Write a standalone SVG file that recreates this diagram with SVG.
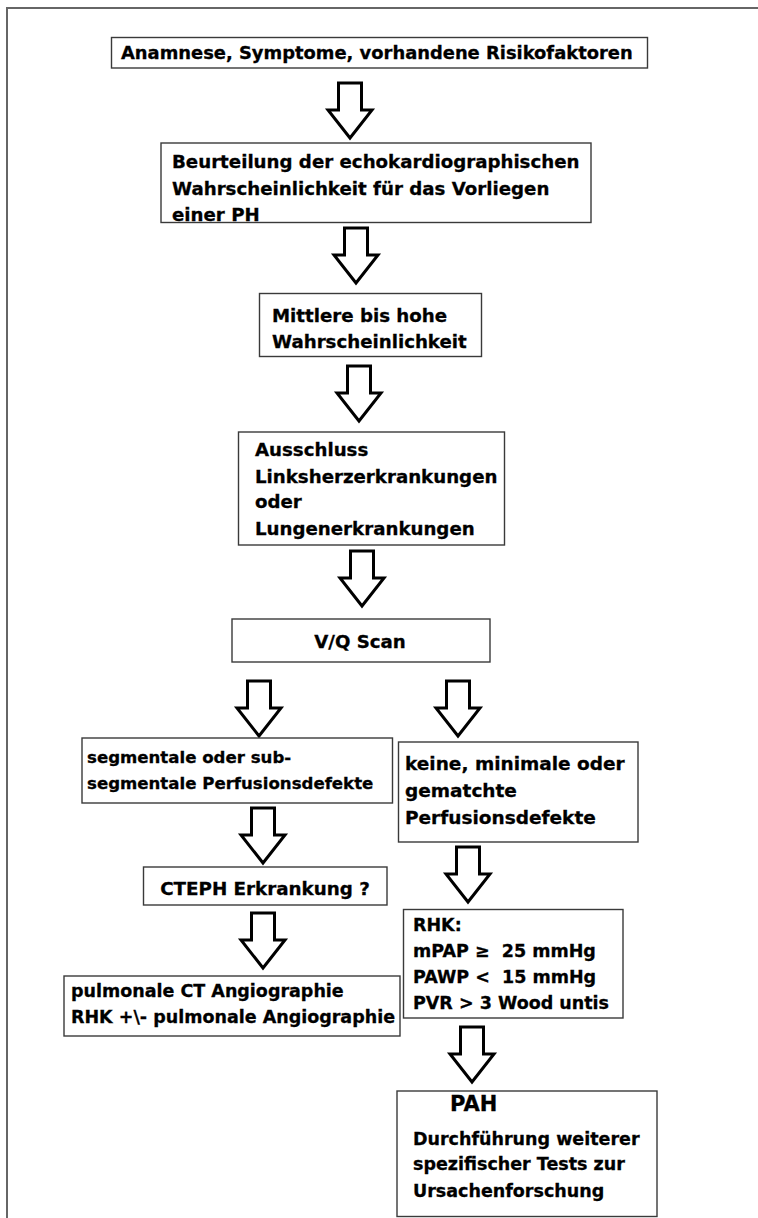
<svg xmlns="http://www.w3.org/2000/svg" xmlns:xlink="http://www.w3.org/1999/xlink" width="758" height="1218" viewBox="0 0 758 1218">
<style>
.box{fill:#fff;stroke:#3a3a3a;stroke-width:1.4}
.t{font-family:"DejaVu Sans","Verdana",sans-serif;font-weight:bold;font-size:17.5px;fill:#000;stroke:#000;stroke-width:0.3}
.u{font-size:18.2px}
.arr{fill:#fff;stroke:#000;stroke-width:3;stroke-linejoin:miter}
.frame{stroke:#666;stroke-width:2;fill:none}
</style>
<defs>
<path id="arrow" class="arr" d="M-11.5,0 H11.5 V27 H22 L0,55 L-22,27 H-11.5 Z"/>
</defs>
<rect width="758" height="1218" fill="#fff"/>
<path class="frame" d="M7,1218 V8 H758"/>

<g id="connectors">
<use xlink:href="#arrow" x="350" y="83"/>
<use xlink:href="#arrow" x="356" y="228"/>
<use xlink:href="#arrow" x="359" y="366"/>
<use xlink:href="#arrow" x="362" y="551"/>
<use xlink:href="#arrow" x="259" y="681"/>
<use xlink:href="#arrow" x="458" y="681"/>
<use xlink:href="#arrow" x="263" y="808"/>
<use xlink:href="#arrow" x="263" y="913"/>
<use xlink:href="#arrow" x="468" y="847"/>
<use xlink:href="#arrow" x="472" y="1027"/>
</g>

<g id="n1">
<rect class="box" x="111.5" y="37.5" width="536" height="30.5"/>
<text class="t" x="121" y="59" style="font-size:17.9px">Anamnese, Symptome, vorhandene Risikofaktoren</text>
</g>
<g id="n2">
<rect class="box" x="161" y="143" width="430" height="79.5"/>
<text class="t u" x="172" y="168">Beurteilung der echokardiographischen</text>
<text class="t u" x="172" y="195">Wahrscheinlichkeit für das Vorliegen</text>
<text class="t u" x="172" y="221">einer PH</text>
</g>
<g id="n3">
<rect class="box" x="259.5" y="293.5" width="222" height="63"/>
<text class="t u" x="272" y="322">Mittlere bis hohe</text>
<text class="t u" x="272" y="348">Wahrscheinlichkeit</text>
</g>
<g id="n4">
<rect class="box" x="238.5" y="432" width="266" height="113"/>
<text class="t u" x="255" y="456">Ausschluss</text>
<text class="t u" x="255" y="483">Linksherzerkrankungen</text>
<text class="t u" x="255" y="508">oder</text>
<text class="t u" x="255" y="535">Lungenerkrankungen</text>
</g>
<g id="n5">
<rect class="box" x="232" y="619" width="258" height="43"/>
<text class="t u" x="360" y="648" text-anchor="middle">V/Q Scan</text>
</g>
<g id="n6">
<rect class="box" x="82" y="738" width="310.5" height="65"/>
<text class="t" x="87" y="763" style="font-size:16.6px">segmentale oder sub-</text>
<text class="t" x="87" y="789" style="font-size:16.6px">segmentale Perfusionsdefekte</text>
</g>
<g id="n7">
<rect class="box" x="398.5" y="742" width="239.5" height="100"/>
<text class="t" x="405" y="770" style="font-size:18.5px">keine, minimale oder</text>
<text class="t" x="405" y="797" style="font-size:18.5px">gematchte</text>
<text class="t" x="405" y="824" style="font-size:18.5px">Perfusionsdefekte</text>
</g>
<g id="n8">
<rect class="box" x="143.5" y="867" width="243.5" height="38"/>
<text class="t" x="265" y="895" text-anchor="middle" style="font-size:18.3px">CTEPH Erkrankung ?</text>
</g>
<g id="n9">
<rect class="box" x="64" y="976" width="336" height="60"/>
<text class="t" x="71" y="997">pulmonale CT Angiographie</text>
<text class="t" x="71" y="1023">RHK +\- pulmonale Angiographie</text>
</g>
<g id="n10">
<rect class="box" x="403.5" y="909.5" width="219.5" height="108.5"/>
<text class="t" x="413" y="931">RHK:</text>
<text class="t" x="413" y="957" xml:space="preserve">mPAP ≥  25 mmHg</text>
<text class="t" x="413" y="983" xml:space="preserve">PAWP &lt;  15 mmHg</text>
<text class="t" x="413" y="1009">PVR &gt; 3 Wood untis</text>
</g>
<g id="n11">
<rect class="box" x="397" y="1091" width="260" height="125.5"/>
<text class="t" x="450" y="1111" style="font-size:21px">PAH</text>
<text class="t" x="413" y="1145">Durchführung weiterer</text>
<text class="t" x="413" y="1170">spezifischer Tests zur</text>
<text class="t" x="413" y="1197">Ursachenforschung</text>
</g>
</svg>
